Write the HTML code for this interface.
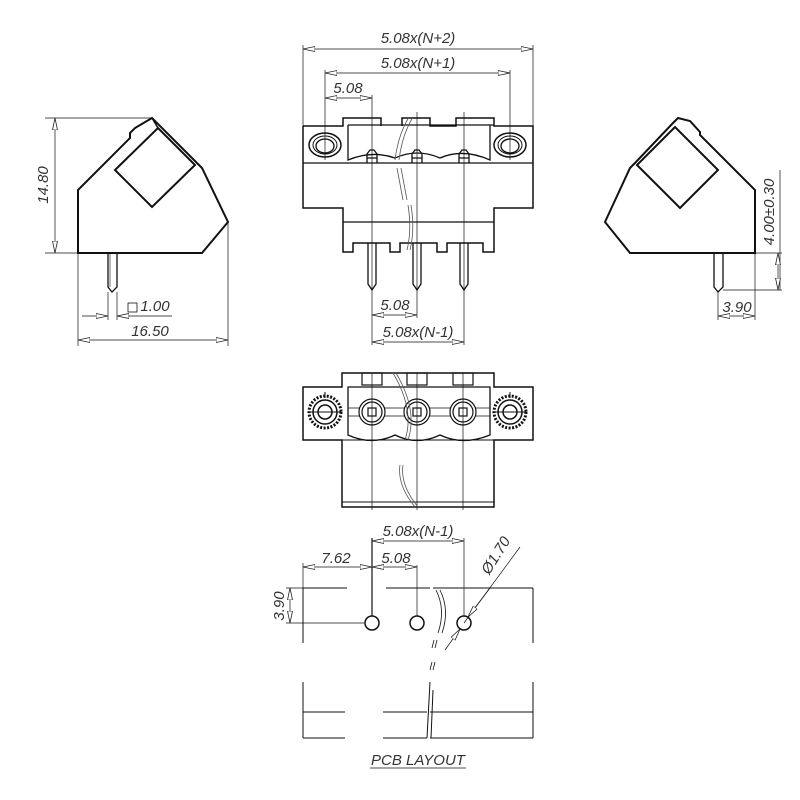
<!DOCTYPE html>
<html><head><meta charset="utf-8"><style>
html,body{margin:0;padding:0;background:#fff;}
svg{display:block}
text{font-family:"Liberation Sans",sans-serif;font-size:15px;fill:#333;font-style:italic}
</style></head><body>
<svg width="800" height="800" viewBox="0 0 800 800" xmlns="http://www.w3.org/2000/svg">
<defs>
<marker id="a" viewBox="0 0 12 6" refX="12" refY="3" markerWidth="12" markerHeight="6" markerUnits="userSpaceOnUse" orient="auto-start-reverse">
<path d="M0,0.5 L12,3 L0,5.5 z" fill="#fff" stroke="#222" stroke-width="0.8"/>
</marker>
</defs>
<g fill="none" stroke="#111" stroke-width="1">

<!-- LEFT SIDE VIEW -->
<polygon points="78,190 130,138 130,133 135,128 152,118 197,163 202,168 228,222 202,253 78,253" stroke-width="2"/>
<polygon points="115,170 152,207 195,165 158,128" stroke-width="2"/>
<line x1="152" y1="118" x2="158" y2="128" stroke-width="1.5"/>
<path d="M108,253 V287 L112,292 L117,287 V253" stroke-width="1.3"/>
<line x1="110" y1="253" x2="110" y2="287" stroke-width="0.6"/>
<line x1="45" y1="118" x2="152" y2="118" stroke-width="0.7"/>
<line x1="45" y1="253" x2="78" y2="253" stroke-width="0.7"/>
<line x1="55" y1="118" x2="55" y2="253" stroke-width="0.7" marker-start="url(#a)" marker-end="url(#a)"/>
<line x1="78" y1="253" x2="78" y2="346" stroke-width="0.7"/>
<line x1="228" y1="222" x2="228" y2="346" stroke-width="0.7"/>
<line x1="78" y1="340" x2="228" y2="340" stroke-width="0.7" marker-start="url(#a)" marker-end="url(#a)"/>
<line x1="108" y1="292" x2="108" y2="320" stroke-width="0.7"/>
<line x1="117" y1="292" x2="117" y2="320" stroke-width="0.7"/>
<line x1="82" y1="316" x2="108" y2="316" stroke-width="0.7" marker-end="url(#a)"/>
<line x1="117" y1="316" x2="172" y2="316" stroke-width="0.7"/>
<line x1="117" y1="316" x2="130" y2="316" stroke-width="0.7" marker-start="url(#a)"/>
<rect x="128" y="303" width="9" height="9" stroke-width="0.8"/>

<!-- RIGHT SIDE VIEW -->
<polygon points="605,222 630,168 635,163 673,123 678,118 690,121 700,132 700,135 755,190 755,253 630,253" stroke-width="2"/>
<polygon points="637,165 680,208 718,170 675,127" stroke-width="2"/>
<path d="M714,253 V287 L718,292 L723,287 V253" stroke-width="1.3"/>
<line x1="723" y1="290" x2="782" y2="290" stroke-width="0.7"/>
<line x1="755" y1="253" x2="782" y2="253" stroke-width="0.7"/>
<line x1="780" y1="170" x2="780" y2="290" stroke-width="0.7"/>
<line x1="778" y1="253" x2="778" y2="290" stroke-width="0.7" marker-start="url(#a)" marker-end="url(#a)"/>
<line x1="718" y1="292" x2="718" y2="320" stroke-width="0.7"/>
<line x1="755" y1="253" x2="755" y2="320" stroke-width="0.7"/>
<line x1="718" y1="316" x2="755" y2="316" stroke-width="0.7" marker-start="url(#a)" marker-end="url(#a)"/>

<!-- FRONT VIEW -->
<path d="M303,126 H343 V118 H381 V126 M303,126 V208 H343 V252 H353 V243 H390 V252 H400 V243 H437 V252 H447 V243 H483 V252 H494 V208 H533 V126 H494 V118 H456 V126 H430 V118 H402 V126" stroke-width="1.5"/>
<path d="M303,163 H343 M494,163 H533 M343,163 H494 M343,222 H494" stroke-width="1.3"/>
<path d="M348,125 H494 M348,125 V160 Q372,150 395,158 Q417,148 440,158 Q463,148 490,160 V125" stroke-width="1.3"/>
<ellipse cx="325" cy="145" rx="16" ry="12" stroke-width="1.5"/>
<ellipse cx="325" cy="145" rx="12" ry="9"/>
<ellipse cx="325" cy="146" rx="9" ry="7" stroke-width="1.3"/>
<ellipse cx="510" cy="145" rx="16" ry="12" stroke-width="1.5"/>
<ellipse cx="510" cy="145" rx="12" ry="9"/>
<ellipse cx="510" cy="146" rx="9" ry="7" stroke-width="1.3"/>
<g stroke-width="1.3">
<path d="M367,163 V154 L370,150 H374 L377,154 V163 M367,158 H377"/>
<path d="M412,163 V154 L415,150 H419 L422,154 V163 M412,158 H422"/>
<path d="M459,163 V154 L462,150 H466 L469,154 V163 M459,158 H469"/>
<path d="M368,243 V284 L372,290 L376,284 V243"/>
<path d="M413,243 V284 L417,290 L421,284 V243"/>
<path d="M460,243 V284 L464,290 L468,284 V243"/>
</g>
<path d="M409,117 Q398,135 395,160 M413,117 Q402,135 399,160 M397,168 L403,200 M401,168 L407,200 M408,205 Q412,230 407,250 M411,205 Q415,230 410,250" stroke="#555" stroke-width="0.8"/>
<g stroke-width="0.7">
<line x1="303" y1="45" x2="303" y2="126"/><line x1="533" y1="45" x2="533" y2="126"/>
<line x1="303" y1="49" x2="533" y2="49" marker-start="url(#a)" marker-end="url(#a)"/>
<line x1="325" y1="70" x2="325" y2="160"/><line x1="510" y1="70" x2="510" y2="160"/>
<line x1="325" y1="73" x2="510" y2="73" marker-start="url(#a)" marker-end="url(#a)"/>
<line x1="372" y1="95" x2="372" y2="345"/><line x1="417" y1="112" x2="417" y2="318"/><line x1="464" y1="112" x2="464" y2="345"/>
<line x1="325" y1="98" x2="372" y2="98" marker-start="url(#a)" marker-end="url(#a)"/>
<line x1="372" y1="315" x2="417" y2="315" marker-start="url(#a)" marker-end="url(#a)"/>
<line x1="372" y1="342" x2="464" y2="342" marker-start="url(#a)" marker-end="url(#a)"/>
</g>

<!-- TOP VIEW -->
<path d="M303,387 H342 V373 H494 V387 H533 V440 H494 V507 H342 V440 H303 Z" stroke-width="1.5"/>
<path d="M342,440 H494 M342,502 H494" stroke-width="1"/>
<path d="M348,387 H490 V435 Q463,446 440,435 Q417,446 395,435 Q372,446 348,435 Z" stroke-width="1.3"/>
<path d="M348,408 H490 M348,416 H490" stroke-width="0.8"/>
<g stroke-width="1.2">
<rect x="362" y="373" width="20" height="12"/><rect x="407" y="373" width="20" height="12"/><rect x="453" y="373" width="20" height="12"/>
<circle cx="372" cy="412" r="13" fill="#fff"/><circle cx="372" cy="412" r="10"/><rect x="368" y="408" width="8" height="8"/>
<circle cx="417" cy="412" r="13" fill="#fff"/><circle cx="417" cy="412" r="10"/><rect x="413" y="408" width="8" height="8"/>
<circle cx="463" cy="412" r="13" fill="#fff"/><circle cx="463" cy="412" r="10"/><rect x="459" y="408" width="8" height="8"/>
<circle cx="325" cy="412" r="16" stroke-dasharray="2 1.5" stroke-width="3"/><circle cx="325" cy="412" r="12" stroke-width="1.5"/><circle cx="325" cy="412" r="7" stroke-width="1.5"/>
<circle cx="510" cy="412" r="16" stroke-dasharray="2 1.5" stroke-width="3"/><circle cx="510" cy="412" r="12" stroke-width="1.5"/><circle cx="510" cy="412" r="7" stroke-width="1.5"/>
</g>
<path d="M325,392 V398 M510,392 V398 M309,412 H341 M494,412 H526" stroke-width="1"/>
<path d="M372,373 V510 M417,373 V510 M463,373 V510" stroke-width="0.7"/>
<path d="M393,373 Q415,410 405,440 M396,373 Q418,410 408,440 M400,465 Q397,485 415,507 M403,465 Q400,485 418,507" stroke="#555" stroke-width="0.8"/>

<!-- PCB LAYOUT -->
<g stroke-width="1">
<path d="M303,588 H347 M386,588 H430 M433,588 H533 M303,588 V643 M533,588 V643"/>
<path d="M303,682 V738 M533,682 V738 M303,712 H345 M383,712 H427 M430,712 H533 M303,738 H345 M383,738 H427 M430,738 H533"/>
<path d="M427,738 L430,682 M431,738 L433,690"/>
<path d="M436,590 Q446,610 438,633 M440,590 Q450,610 442,633" stroke-width="0.8"/>
<path d="M432,648 L434,640 M435,648 L437,640 M430,670 L432,662 M433,670 L435,662" stroke-width="0.8"/>
<circle cx="372" cy="623" r="7" stroke-width="1.5"/><circle cx="417" cy="623" r="7" stroke-width="1.5"/><circle cx="464" cy="623" r="7" stroke-width="1.5"/>
</g>
<g stroke-width="0.7">
<line x1="372" y1="538" x2="372" y2="616" stroke-width="1.2"/>
<line x1="417" y1="565" x2="417" y2="616"/>
<line x1="464" y1="538" x2="464" y2="616"/>
<line x1="303" y1="563" x2="303" y2="588"/>
<line x1="372" y1="541" x2="464" y2="541" marker-start="url(#a)" marker-end="url(#a)"/>
<line x1="303" y1="567" x2="372" y2="567" marker-start="url(#a)" marker-end="url(#a)"/>
<line x1="372" y1="567" x2="417" y2="567" marker-start="url(#a)" marker-end="url(#a)"/>
<line x1="286" y1="588" x2="303" y2="588"/>
<line x1="286" y1="623" x2="364" y2="623"/>
<line x1="290" y1="588" x2="290" y2="623" marker-start="url(#a)" marker-end="url(#a)"/>
<line x1="520" y1="547" x2="464" y2="623" />
<line x1="445" y1="650" x2="460" y2="629" marker-end="url(#a)"/>
<line x1="490" y1="588" x2="468" y2="617" marker-end="url(#a)"/>
<line x1="370" y1="768" x2="466" y2="768"/>
</g>
</g>

<!-- TEXT -->
<text x="418" y="43" text-anchor="middle">5.08x(N+2)</text>
<text x="418" y="68" text-anchor="middle">5.08x(N+1)</text>
<text x="348" y="93" text-anchor="middle">5.08</text>
<text x="395" y="310" text-anchor="middle">5.08</text>
<text x="418" y="337" text-anchor="middle">5.08x(N-1)</text>
<text x="150" y="336" text-anchor="middle">16.50</text>
<text x="155" y="311" text-anchor="middle">1.00</text>
<text transform="translate(48,185) rotate(-90)" text-anchor="middle">14.80</text>
<text transform="translate(774,212) rotate(-90)" text-anchor="middle">4.00±0.30</text>
<text x="737" y="312" text-anchor="middle">3.90</text>
<text x="418" y="536" text-anchor="middle">5.08x(N-1)</text>
<text x="336" y="563" text-anchor="middle">7.62</text>
<text x="396" y="563" text-anchor="middle">5.08</text>
<text transform="translate(284,606) rotate(-90)" text-anchor="middle">3.90</text>
<text transform="translate(500,558) rotate(-58)" text-anchor="middle">Ø1.70</text>
<text x="418" y="765" text-anchor="middle">PCB  LAYOUT</text>
</svg>
</body></html>
